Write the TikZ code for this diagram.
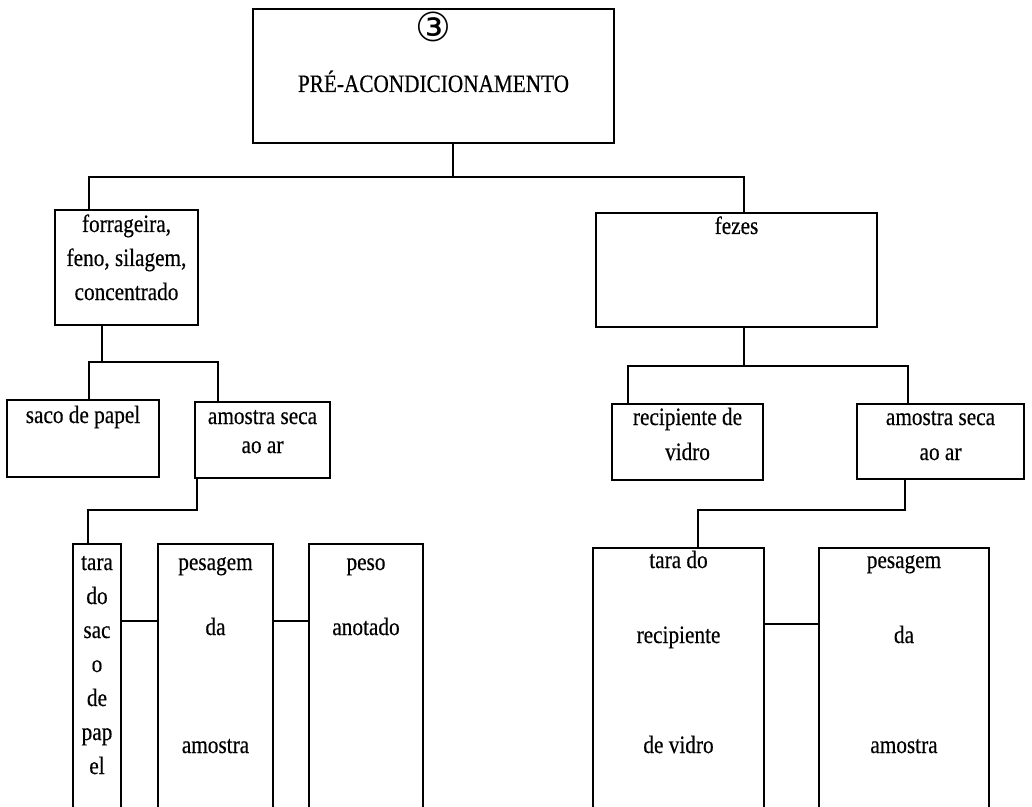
\documentclass[tikz,border=0pt]{standalone}
\usepackage{fontspec}
\setmainfont{Liberation Serif}[FakeStretch=0.85,FakeBold=0.4]
\newfontfamily\symfont{DejaVu Sans}
\usepackage{tikz}
\usetikzlibrary{calc}
\newdimen\px \px=0.5pt
% width, height, first baseline (px), lines
\newcommand\boxtext[4]{\parbox[c][#2\px][t]{#1\px}{\centering\rule{0pt}{#3\px}#4}}
\tikzset{
  box/.style={draw,line width=1.3pt,inner sep=0pt,font=\fontsize{12.5}{13}\selectfont},
  conn/.style={line width=1.2pt},
}
\begin{document}
\begin{tikzpicture}[x=0.5pt,y=-0.5pt]
  \useasboundingbox (0,0) rectangle (1032,807);
  % boxes
  \node[box] (top) at (433.5,76) {\boxtext{361}{134}{33}{{\symfont\fontsize{20}{20}\selectfont ③}\\[12pt]PRÉ-ACONDICIONAMENTO}};
  \node[box] (forr) at (126.5,267.5) {\boxtext{143}{115}{22}{forrageira,\\[4pt]feno, silagem,\\[4pt]concentrado}};
  \node[box] (fezes) at (736.5,270) {\boxtext{281}{114}{21}{fezes}};
  \node[box] (saco) at (83,438.5) {\boxtext{152}{77}{23}{saco de papel}};
  \node[box] (secaL) at (262.5,440) {\boxtext{135}{76}{22}{amostra seca\\[1.5pt]ao ar}};
  \node[box] (recip) at (687.5,442) {\boxtext{151}{76}{21}{recipiente de\\[4.5pt]vidro}};
  \node[box] (secaR) at (940.5,441.5) {\boxtext{167}{75}{21}{amostra seca\\[4.5pt]ao ar}};
  \node[box] (taraL) at (97,687) {\boxtext{48}{286}{26}{tara\\[4pt]do\\[4pt]sac\\[4pt]o\\[4pt]de\\[4pt]pap\\[4pt]el}};
  \node[box] (pesL) at (215.5,687) {\boxtext{115}{286}{26}{pesagem\\[19.5pt]da\\[46pt]amostra}};
  \node[box] (peso) at (366,687) {\boxtext{114}{286}{26}{peso\\[19.5pt]anotado}};
  \node[box] (taraR) at (678.5,689) {\boxtext{171}{282}{20}{tara do\\[24.5pt]recipiente\\[42pt]de vidro}};
  \node[box] (pesR) at (904,689) {\boxtext{170}{282}{20}{pesagem\\[24.5pt]da\\[42pt]amostra}};
  % junctions
  \coordinate (j0) at (453,177);
  \coordinate (jl) at (89,177);
  \coordinate (jr) at (744,177);
  \coordinate (k0) at (102,362);
  \coordinate (kl) at (89,362);
  \coordinate (kr) at (218,362);
  \coordinate (m0) at (744,366);
  \coordinate (ml) at (628,366);
  \coordinate (mr) at (908,366);
  \coordinate (n0) at (197,510);
  \coordinate (nl) at (88,510);
  \coordinate (p0) at (905,510);
  \coordinate (pl) at (698,510);
  \coordinate (q1) at (0,621);
  \coordinate (q2) at (0,624);
  % connectors
  \draw[conn] (top.south -| j0) -- (j0);
  \draw[conn] (forr.north -| jl) -- (jl) -- (jr) -- (fezes.north -| jr);
  \draw[conn] (forr.south -| k0) -- (k0);
  \draw[conn] (saco.north -| kl) -- (kl) -- (kr) -- (secaL.north -| kr);
  \draw[conn] (fezes.south -| m0) -- (m0);
  \draw[conn] (recip.north -| ml) -- (ml) -- (mr) -- (secaR.north -| mr);
  \draw[conn] (secaL.south -| n0) -- (n0) -- (nl) -- (taraL.north -| nl);
  \draw[conn] (secaR.south -| p0) -- (p0) -- (pl) -- (taraR.north -| pl);
  \draw[conn] (taraL.east |- q1) -- (pesL.west |- q1);
  \draw[conn] (pesL.east |- q1) -- (peso.west |- q1);
  \draw[conn] (taraR.east |- q2) -- (pesR.west |- q2);
\end{tikzpicture}
\end{document}
